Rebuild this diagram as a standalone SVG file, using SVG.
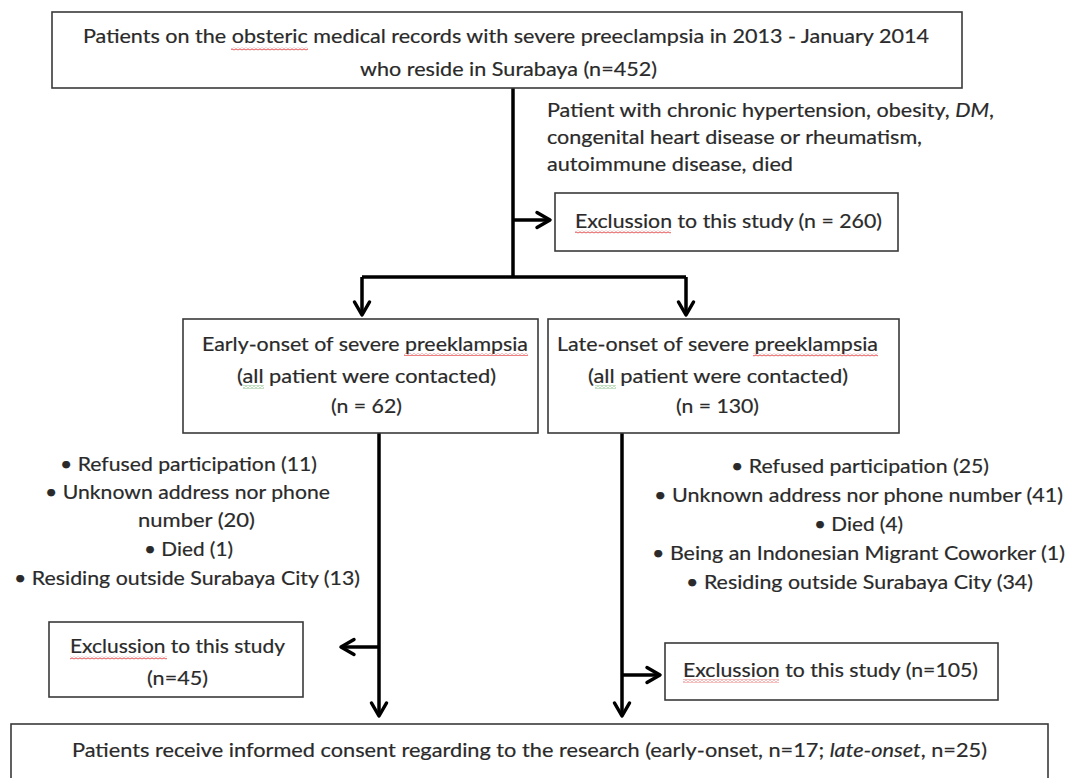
<svg xmlns="http://www.w3.org/2000/svg" width="1066" height="778" viewBox="0 0 1066 778">
<style>
.box{fill:#fff;stroke:#3a3a3a;stroke-width:1.6}
.t{font-family:Lato,"Open Sans","Liberation Sans",sans-serif;font-size:20px;fill:#2a2a2a;stroke:#2a2a2a;stroke-width:0.2}
.c{fill:none;stroke:#000;stroke-width:3.5}
.i{font-style:italic}
</style>
<defs>
<marker id="arr" markerUnits="userSpaceOnUse" markerWidth="40" markerHeight="40" viewBox="-20 -20 40 40" refX="0" refY="0" orient="auto" overflow="visible">
<path d="M-13,-7.5 L0,0 L-13,7.5" fill="none" stroke="#000" stroke-width="3.5" stroke-linejoin="round" stroke-linecap="round"/>
</marker>
<pattern id="red" patternUnits="userSpaceOnUse" width="4" height="3">
<path d="M0,0.8 L2,2.2 L4,0.8" fill="none" stroke="#e02828" stroke-width="0.9"/>
</pattern>
<pattern id="green" patternUnits="userSpaceOnUse" width="4" height="3">
<path d="M0,0.8 L2,2.2 L4,0.8" fill="none" stroke="#3c9a3c" stroke-width="0.9"/>
</pattern>
</defs>
<rect width="1066" height="778" fill="#fff"/>

<g id="connectors">
<path class="c" d="M513,88 V277"/>
<path class="c" d="M513,220 H550" marker-end="url(#arr)"/>
<path class="c" d="M362,277 H686"/>
<path class="c" d="M362,277 V315" marker-end="url(#arr)"/>
<path class="c" d="M686,277 V315" marker-end="url(#arr)"/>
<path class="c" d="M379,433 V716" marker-end="url(#arr)"/>
<path class="c" d="M379,647 H341" marker-end="url(#arr)"/>
<path class="c" d="M622,433 V716" marker-end="url(#arr)"/>
<path class="c" d="M622,675 H660" marker-end="url(#arr)"/>
</g>

<g id="n_total">
<rect class="box" x="52" y="12" width="910" height="76"/>
<text class="t" x="83" y="43" textLength="846" lengthAdjust="spacingAndGlyphs">Patients on the obsteric medical records with severe preeclampsia in 2013 - January 2014</text>
<text class="t" x="360" y="76" textLength="297" lengthAdjust="spacingAndGlyphs">who reside in Surabaya (n=452)</text>
<rect x="231" y="47.5" width="77" height="3" fill="url(#red)"/>
</g>

<g id="criteria">
<text class="t" x="547" y="117" textLength="447" lengthAdjust="spacingAndGlyphs">Patient with chronic hypertension, obesity, <tspan class="i">DM</tspan>,</text>
<text class="t" x="547" y="144" textLength="375" lengthAdjust="spacingAndGlyphs">congenital heart disease or rheumatism,</text>
<text class="t" x="547" y="171" textLength="246" lengthAdjust="spacingAndGlyphs">autoimmune disease, died</text>
</g>

<g id="n_excl260">
<rect class="box" x="555" y="193" width="343" height="58"/>
<text class="t" x="575" y="228" textLength="307" lengthAdjust="spacingAndGlyphs">Exclussion to this study (n = 260)</text>
<rect x="575" y="230.5" width="96" height="3" fill="url(#red)"/>
</g>

<g id="n_early">
<rect class="box" x="183" y="319" width="355" height="114"/>
<text class="t" x="202" y="351" textLength="326" lengthAdjust="spacingAndGlyphs">Early-onset of severe preeklampsia</text>
<text class="t" x="237" y="383" textLength="259" lengthAdjust="spacingAndGlyphs">(all patient were contacted)</text>
<text class="t" x="331" y="413" textLength="71" lengthAdjust="spacingAndGlyphs">(n = 62)</text>
<rect x="404" y="353" width="124" height="3" fill="url(#red)"/>
<rect x="243" y="385.5" width="21" height="3" fill="url(#green)"/>
</g>

<g id="n_late">
<rect class="box" x="548" y="319" width="351" height="114"/>
<text class="t" x="557" y="351" textLength="321" lengthAdjust="spacingAndGlyphs">Late-onset of severe preeklampsia</text>
<text class="t" x="588" y="383" textLength="260" lengthAdjust="spacingAndGlyphs">(all patient were contacted)</text>
<text class="t" x="676" y="413" textLength="83" lengthAdjust="spacingAndGlyphs">(n = 130)</text>
<rect x="753" y="353.5" width="125" height="3" fill="url(#red)"/>
<rect x="595" y="385.5" width="21" height="3" fill="url(#green)"/>
</g>

<g id="reasons_early">
<text class="t" x="60" y="471" textLength="257" lengthAdjust="spacingAndGlyphs">•  Refused participation (11)</text>
<text class="t" x="45" y="499" textLength="285" lengthAdjust="spacingAndGlyphs">•  Unknown address nor phone</text>
<text class="t" x="138" y="527" textLength="117" lengthAdjust="spacingAndGlyphs">number (20)</text>
<text class="t" x="144" y="556" textLength="89" lengthAdjust="spacingAndGlyphs">•  Died (1)</text>
<text class="t" x="14" y="585" textLength="346" lengthAdjust="spacingAndGlyphs">•  Residing outside Surabaya City (13)</text>
</g>

<g id="reasons_late">
<text class="t" x="731" y="473" textLength="258" lengthAdjust="spacingAndGlyphs">•  Refused participation (25)</text>
<text class="t" x="654" y="502" textLength="409" lengthAdjust="spacingAndGlyphs">•  Unknown address nor phone number (41)</text>
<text class="t" x="814" y="531" textLength="89" lengthAdjust="spacingAndGlyphs">•  Died (4)</text>
<text class="t" x="652" y="560" textLength="413" lengthAdjust="spacingAndGlyphs">•  Being an Indonesian Migrant Coworker (1)</text>
<text class="t" x="686" y="589" textLength="347" lengthAdjust="spacingAndGlyphs">•  Residing outside Surabaya City (34)</text>
</g>

<g id="n_excl45">
<rect class="box" x="49" y="622" width="254" height="75"/>
<text class="t" x="70" y="653" textLength="215" lengthAdjust="spacingAndGlyphs">Exclussion to this study</text>
<text class="t" x="147" y="685" textLength="61" lengthAdjust="spacingAndGlyphs">(n=45)</text>
<rect x="70" y="656.5" width="97" height="3" fill="url(#red)"/>
</g>

<g id="n_excl105">
<rect class="box" x="665" y="643" width="333" height="57"/>
<text class="t" x="683" y="677" textLength="295" lengthAdjust="spacingAndGlyphs">Exclussion to this study (n=105)</text>
<rect x="683" y="679.5" width="96" height="3" fill="url(#red)"/>
</g>

<g id="n_consent">
<rect class="box" x="11" y="724" width="1037" height="80"/>
<text class="t" x="72" y="757" textLength="915" lengthAdjust="spacingAndGlyphs">Patients receive informed consent regarding to the research (early-onset, n=17; <tspan class="i">late-onset</tspan>, n=25)</text>
</g>
</svg>
